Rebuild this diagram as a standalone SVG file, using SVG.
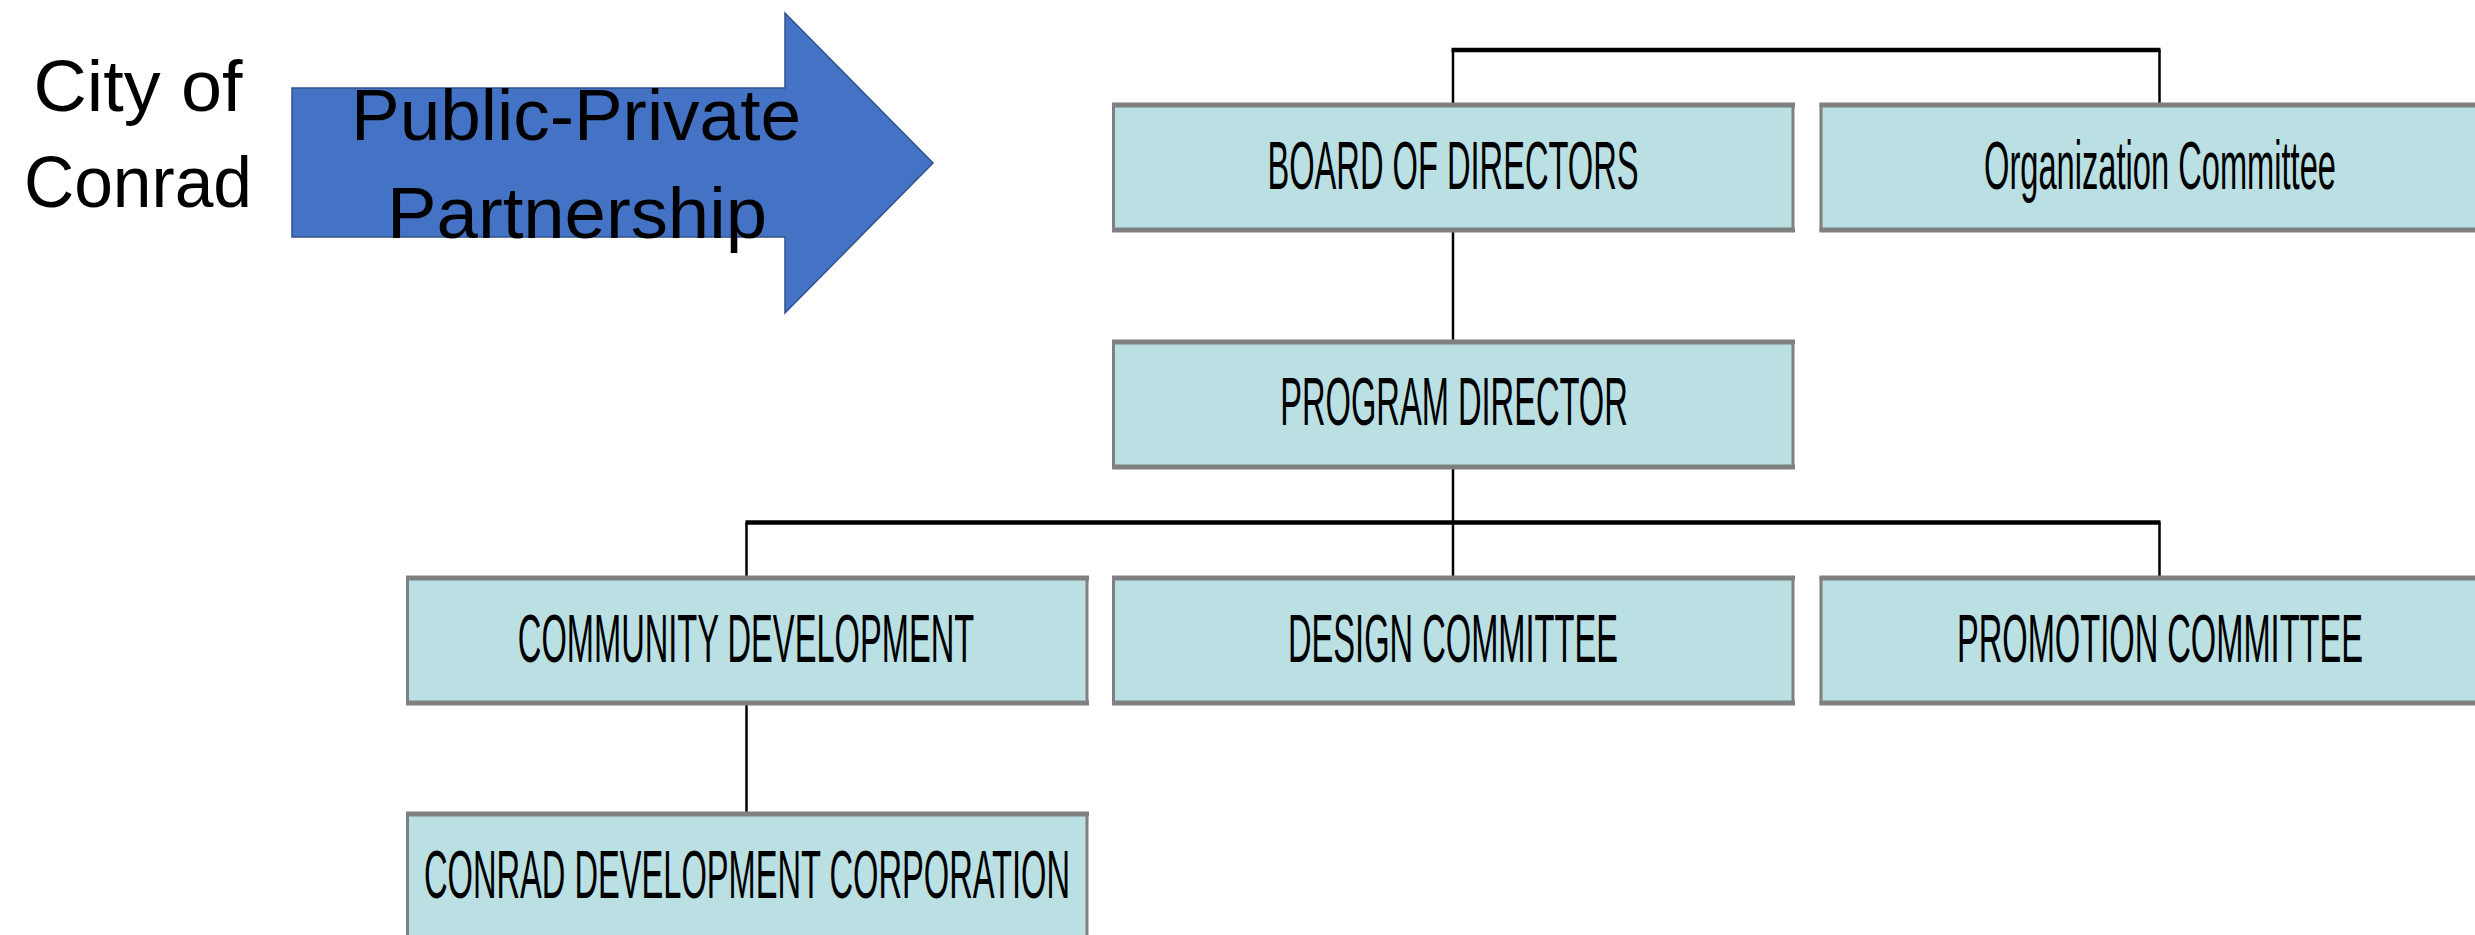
<svg xmlns="http://www.w3.org/2000/svg" width="2475" height="935" viewBox="0 0 2475 935">
  <style>
    .box { fill: #BBE0E3; stroke: #808080; stroke-width: 3; }
    .band { stroke: #808080; stroke-width: 5; fill: none; }
    .label { font-family: "Liberation Sans", Arial, sans-serif; font-size: 68px; fill: #000; text-anchor: middle; }
    .big { font-family: "Liberation Sans", Arial, sans-serif; font-size: 72px; fill: #000; text-anchor: middle; }
    .h { stroke: #000; stroke-width: 4.5; fill: none; }
    .v { stroke: #000; stroke-width: 2.5; fill: none; }
  </style>

  <rect width="2475" height="935" fill="#FFFFFF"/>

  <!-- City label -->
  <g id="city">
    <text class="big" x="138" y="111" textLength="209" lengthAdjust="spacingAndGlyphs">City of</text>
    <text class="big" x="138" y="207" textLength="228" lengthAdjust="spacingAndGlyphs">Conrad</text>
  </g>

  <!-- Partnership arrow -->
  <g id="partnership">
    <polygon points="292,88 785,88 785,13 933,163 785,313 785,237 292,237" fill="#4472C4" stroke="#2F528F" stroke-width="1.5"/>
    <text class="big" x="576" y="140" textLength="450" lengthAdjust="spacingAndGlyphs">Public-Private</text>
    <text class="big" x="577" y="238" textLength="380" lengthAdjust="spacingAndGlyphs">Partnership</text>
  </g>

  <!-- Connectors -->
  <g id="connectors">
    <path class="h" d="M1451.5,50 H2160.5"/>
    <path class="v" d="M1453,50 V105"/>
    <path class="v" d="M2159.5,50 V105"/>
    <path class="v" d="M1453,230 V342"/>
    <path class="v" d="M1453,467 V522.5"/>
    <path class="h" d="M745.5,522.5 H2160.5"/>
    <path class="v" d="M746.5,522.5 V578"/>
    <path class="v" d="M1453,522.5 V578"/>
    <path class="v" d="M2159.5,522.5 V578"/>
    <path class="v" d="M746.5,703 V814"/>
  </g>

  <!-- Node labels are set in a condensed cut: regular face squeezed horizontally -->
  <g id="board">
    <rect class="box" x="1113.5" y="105" width="679.5" height="125"/>
    <path class="band" d="M1112,105 H1795 M1112,230 H1795"/>
    <text class="label" transform="translate(1453,189) scale(0.48,1)">BOARD OF DIRECTORS</text>
  </g>

  <g id="organization">
    <rect class="box" x="1821" y="105" width="679.5" height="125"/>
    <path class="band" d="M1819.5,105 H2502 M1819.5,230 H2502"/>
    <text class="label" transform="translate(2160,189) scale(0.48,1)">Organization Committee</text>
  </g>

  <g id="program-director">
    <rect class="box" x="1113.5" y="342" width="679.5" height="125"/>
    <path class="band" d="M1112,342 H1795 M1112,467 H1795"/>
    <text class="label" transform="translate(1454,425) scale(0.48,1)">PROGRAM DIRECTOR</text>
  </g>

  <g id="community-development">
    <rect class="box" x="407.5" y="578" width="679.5" height="125"/>
    <path class="band" d="M406,578 H1089 M406,703 H1089"/>
    <text class="label" transform="translate(746,662) scale(0.48,1)">COMMUNITY DEVELOPMENT</text>
  </g>

  <g id="design">
    <rect class="box" x="1113.5" y="578" width="679.5" height="125"/>
    <path class="band" d="M1112,578 H1795 M1112,703 H1795"/>
    <text class="label" transform="translate(1453,662) scale(0.48,1)">DESIGN COMMITTEE</text>
  </g>

  <g id="promotion">
    <rect class="box" x="1821" y="578" width="679.5" height="125"/>
    <path class="band" d="M1819.5,578 H2502 M1819.5,703 H2502"/>
    <text class="label" transform="translate(2160,662) scale(0.48,1)">PROMOTION COMMITTEE</text>
  </g>

  <g id="conrad-development-corporation">
    <rect class="box" x="407.5" y="814" width="679.5" height="125"/>
    <path class="band" d="M406,814 H1089"/>
    <text class="label" transform="translate(747,898) scale(0.48,1)">CONRAD DEVELOPMENT CORPORATION</text>
  </g>
</svg>
